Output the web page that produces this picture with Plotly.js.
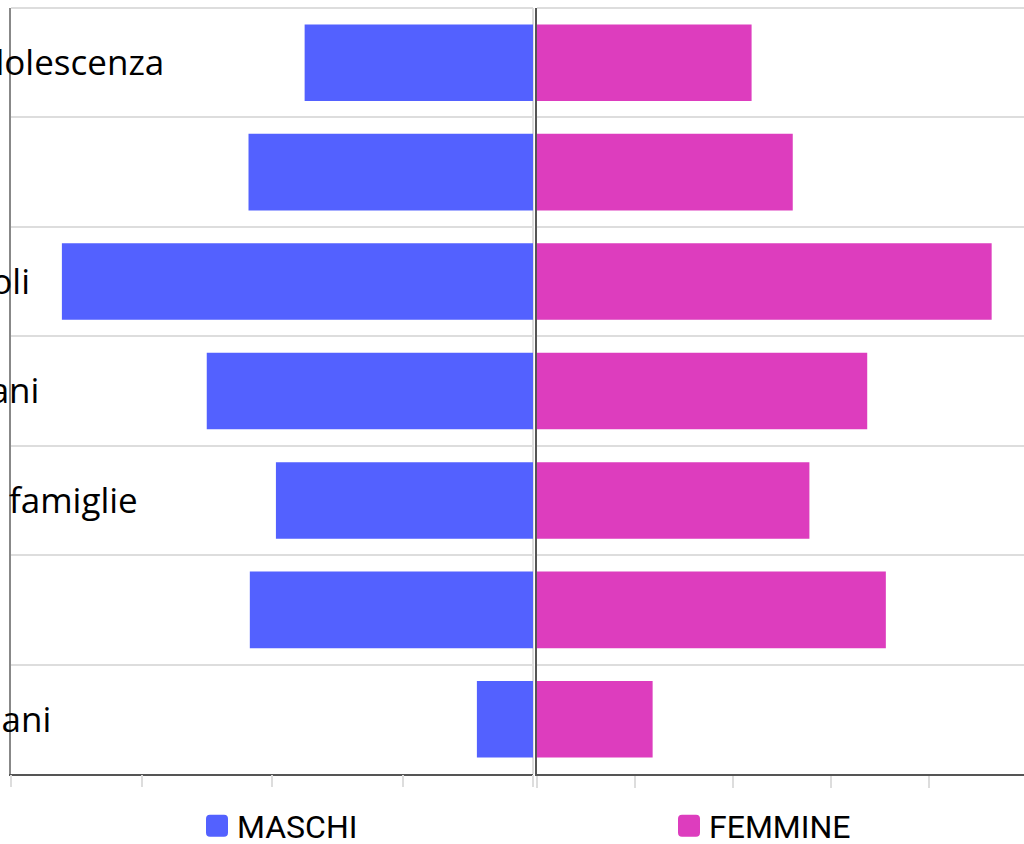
<!DOCTYPE html>
<html>
<head>
<meta charset="utf-8">
<script src="https://cdn.plot.ly/plotly-3.0.1.min.js"></script>
<style>
html,body{margin:0;padding:0;background:#fff;overflow:hidden;}
#chart{width:1024px;height:844px;}
</style>
</head>
<body>
<div id="chart"></div>
<script>
const categories = [
  "Infanzia e adolescenza",
  "Disabilità",
  "Per figli piccoli",
  "Sport e giovani",
  "Sostegni per famiglie",
  "Povertà",
  "Malati e anziani"
];
const maschi = [17.5, 21.8, 36.1, 25.0, 19.7, 21.7, 4.3];
const femmine = [21.9, 26.1, 46.4, 33.7, 27.8, 35.6, 11.8];
const seriesNames = ["MASCHI", "FEMMINE"];
const colors = ["#5361FF", "#DD3DBE"];

const W = 1024, H = 844;
const leftDomain = [11 / W, 533 / W];
const rightDomain = [537 / W, 1];
const leftRange = [40, 0];
const rightRange = [0, 49.7];

const traces = [
  {type: "bar", orientation: "h", name: seriesNames[0], y: categories, x: maschi,
   xaxis: "x", yaxis: "y", marker: {color: colors[0]}, showlegend: false, hoverinfo: "x+y"},
  {type: "bar", orientation: "h", name: seriesNames[1], y: categories, x: femmine,
   xaxis: "x2", yaxis: "y2", marker: {color: colors[1]}, showlegend: false, hoverinfo: "x+y"},
  {type: "scatter", mode: "markers", name: seriesNames[0], x: [null], y: [null],
   xaxis: "x", yaxis: "y", marker: {symbol: "square", size: 16, color: colors[0]}, legend: "legend"},
  {type: "scatter", mode: "markers", name: seriesNames[1], x: [null], y: [null],
   xaxis: "x2", yaxis: "y2", marker: {symbol: "square", size: 16, color: colors[1]}, legend: "legend2"},
  {type: "scatter", mode: "markers", x: [null], y: [null], xaxis: "x3", yaxis: "y3",
   showlegend: false, hoverinfo: "skip"}
];

const xCommon = {
  showticklabels: false, ticks: "outside", ticklen: 12, tickwidth: 2, tickcolor: "#dddddd",
  dtick: 10, tick0: 0, showgrid: false, showline: true, linecolor: "#555555", linewidth: 2,
  fixedrange: true
};
const yCommon = {
  type: "category", autorange: "reversed", tickson: "boundaries", ticks: "",
  showgrid: true, gridcolor: "#dddddd", gridwidth: 2, domain: [0, 1],
  fixedrange: true
};
const legendFont = {family: "Roboto, sans-serif", size: 32, color: "#000"};

const layout = {
  width: W, height: H,
  margin: {l: 0, r: 0, t: 8, b: 70, autoexpand: false},
  paper_bgcolor: "#ffffff", plot_bgcolor: "#ffffff",
  bargap: 0.3,
  font: {family: "'Open Sans', sans-serif", color: "#000"},
  xaxis: Object.assign({}, xCommon, {domain: leftDomain, range: leftRange, anchor: "y",
    ticks: "", zeroline: true, zerolinecolor: "#dddddd", zerolinewidth: 2}),
  xaxis3: Object.assign({}, xCommon, {domain: leftDomain, range: leftRange, overlaying: "x",
    anchor: "y3", side: "bottom", showline: false, zeroline: false}),
  yaxis3: {overlaying: "y", anchor: "x3", domain: [0, 1], range: [0, 1], visible: false,
    showgrid: false, zeroline: false, fixedrange: true},
  xaxis2: Object.assign({}, xCommon, {domain: rightDomain, range: rightRange, anchor: "y2",
    zeroline: false}),
  yaxis: Object.assign({}, yCommon, {anchor: "x", showline: true, linecolor: "#888888", linewidth: 2,
    showticklabels: true, ticklabelposition: "inside", ticklabelstandoff: -210,
    tickfont: {family: "'Open Sans', sans-serif", size: 35, color: "#000"}}),
  yaxis2: Object.assign({}, yCommon, {anchor: "x2", matches: "y", showline: true,
    linecolor: "#555555", linewidth: 2, showticklabels: false}),
  legend: {orientation: "h", xref: "container", yref: "container", x: 197 / W, y: 18 / H,
    xanchor: "left", yanchor: "middle", font: legendFont, itemwidth: 30, bgcolor: "rgba(0,0,0,0)"},
  legend2: {orientation: "h", xref: "container", yref: "container", x: 669 / W, y: 18 / H,
    xanchor: "left", yanchor: "middle", font: legendFont, itemwidth: 30, bgcolor: "rgba(0,0,0,0)"},
  shapes: [
    {type: "line", xref: "paper", yref: "paper", x0: leftDomain[0], x1: leftDomain[1], y0: 1, y1: 1,
     line: {color: "#dddddd", width: 2}},
    {type: "line", xref: "paper", yref: "paper", x0: rightDomain[0], x1: rightDomain[1], y0: 1, y1: 1,
     line: {color: "#dddddd", width: 2}}
  ],
  showlegend: true
};

// rounded 22px legend swatch
const swatchPath = "M-11,-7A4,4 0 0 1 -7,-11H7A4,4 0 0 1 11,-7V7A4,4 0 0 1 7,11H-7A4,4 0 0 1 -11,7Z";
function styleSwatches() {
  document.querySelectorAll("#chart .legendpoints path.scatterpts").forEach(function (p) {
    p.setAttribute("d", swatchPath);
  });
}

Plotly.newPlot("chart", traces, layout, {displayModeBar: false, staticPlot: true}).then(styleSwatches);
</script>
</body>
</html>
